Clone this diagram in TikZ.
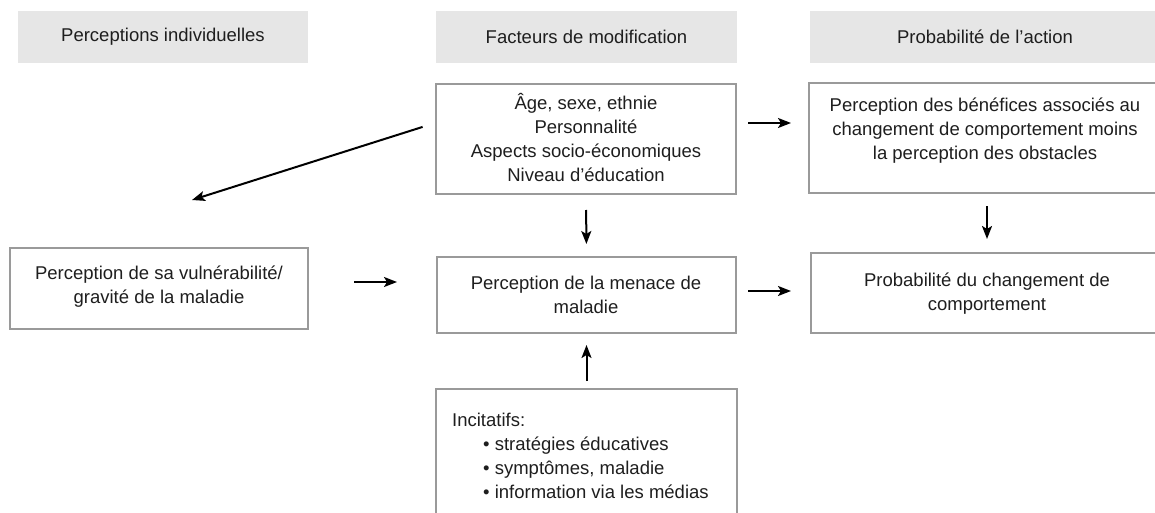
\documentclass[tikz,border=0pt]{standalone}
\usepackage{fontspec}
\setmainfont{Liberation Sans}
\usetikzlibrary{arrows.meta}
\definecolor{hdrgray}{HTML}{E6E6E6}
\definecolor{boxgray}{HTML}{9A9A9A}
\definecolor{txt}{HTML}{1E1E1E}
\tikzset{
  hdr/.style={fill=hdrgray, draw=none, minimum height=52pt, inner sep=0pt, text=txt,
    font=\fontsize{18.5}{24}\selectfont},
  boxnode/.style={draw=boxgray, line width=2pt, inner sep=0pt},
  txtnode/.style={inner sep=0pt, text=txt, align=center, font=\fontsize{18.5}{24}\selectfont},
  arr/.style={draw=black, line width=2pt, -{Stealth[length=13pt,width=10pt,inset=3pt]}}
}
\begin{document}
\begin{tikzpicture}[x=1pt,y=-1pt]
\useasboundingbox (0,0) rectangle (1155,513);
\clip (0,0) rectangle (1155,513);
% headers
\node[hdr, minimum width=290pt] (h1) at (163,37) {Perceptions individuelles};
\node[hdr, minimum width=301pt] (h2) at (586.5,37) {Facteurs de modification};
\node[hdr, minimum width=350pt] (h3) at (985,37) {Probabilité de l’action};
% boxes
\node[boxnode, minimum width=300pt, minimum height=110pt] (A) at (586,139) {};
\node[boxnode, minimum width=352pt, minimum height=110pt] (B) at (985,138) {};
\node[boxnode, minimum width=298pt, minimum height=81pt] (C) at (159,288.5) {};
\node[boxnode, minimum width=299pt, minimum height=76pt] (D) at (586.5,295) {};
\node[boxnode, minimum width=350pt, minimum height=80pt] (E) at (986,293) {};
\node[boxnode, minimum width=301pt, minimum height=141pt] (F) at (586.5,459.5) {};
% texts
\node[txtnode] (tA) at (586,138) {Âge, sexe, ethnie\\Personnalité\\Aspects socio-économiques\\Niveau d’éducation};
\node[txtnode] (tB) at (985,131) {Perception des bénéfices associés au\\changement de comportement moins\\la perception des obstacles};
\node[txtnode] (tC) at (159,287) {Perception de sa vulnérabilité/\\gravité de la maladie};
\node[txtnode] (tD) at (586,295) {Perception de la menace de\\maladie};
\node[txtnode] (tE) at (987,294) {Probabilité du changement de\\comportement};
\node[txtnode, align=left, anchor=west] (tF) at (452,456) {Incitatifs:\\\hspace{31pt}• stratégies éducatives\\\hspace{31pt}• symptômes, maladie\\\hspace{31pt}• information via les médias};
% arrows
\coordinate (diagend) at (192,200);
\draw[arr, shorten <=13pt] ([yshift=16pt]A.west) -- (diagend);
\draw[arr, shorten <=11pt, shorten >=17pt] ([yshift=16pt]A.east) -- ([yshift=15pt]B.west);
\draw[arr, shorten <=15pt, shorten >=12pt] (A.south) -- (D.north);
\draw[arr, shorten <=45pt, shorten >=39pt] ([yshift=6.5pt]C.east) -- ([yshift=13pt]D.west);
\draw[arr, shorten <=11pt, shorten >=19pt] ([yshift=4pt]D.east) -- ([yshift=2pt]E.west);
\draw[arr, shorten <=12pt, shorten >=13pt] ([xshift=2pt]B.south) -- ([xshift=1pt]E.north);
\draw[arr, shorten <=7pt, shorten >=11pt] (F.north) -- (D.south);
\end{tikzpicture}
\end{document}
